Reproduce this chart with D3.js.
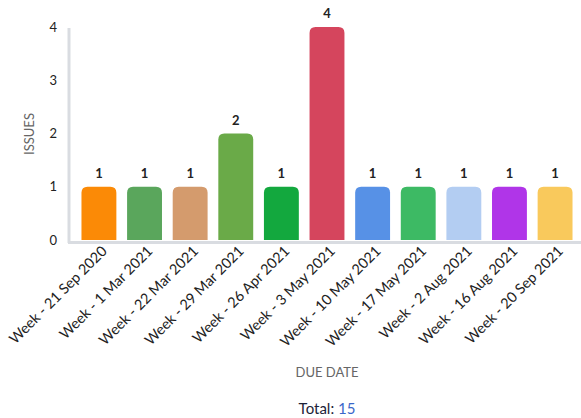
<!DOCTYPE html>
<html>
<head>
<meta charset="utf-8">
<script src="https://cdn.jsdelivr.net/npm/d3@7"></script>
<style>
  html, body { margin: 0; padding: 0; background: #fff; }
  svg { display: block; font-family: Lato, "Open Sans", sans-serif; }
</style>
</head>
<body>
<svg id="chart" width="581" height="418"></svg>
<script>
// Issues per due-date week
const weeks = [
  "Week - 21 Sep 2020", "Week - 1 Mar 2021", "Week - 22 Mar 2021", "Week - 29 Mar 2021",
  "Week - 26 Apr 2021", "Week - 3 May 2021", "Week - 10 May 2021", "Week - 17 May 2021",
  "Week - 2 Aug 2021", "Week - 16 Aug 2021", "Week - 20 Sep 2021"
];
const issues = [1, 1, 1, 2, 1, 4, 1, 1, 1, 1, 1];
const barColors = [
  "#fb8a06", "#5aa65c", "#d49b6d", "#6aaa48", "#13a83e", "#d5455d",
  "#5791e6", "#3dba64", "#b3cdf2", "#b035e8", "#f9c95c"
];
const yTicks = [0, 1, 2, 3, 4];

const svg = d3.select("#chart");
const x = d3.scaleBand().domain(weeks).range([76, 578]).paddingInner(0.235).paddingOuter(0.12);
const y = d3.scaleLinear().domain([0, 4]).range([240, 27]);

// axis lines
svg.append("line").attr("x1", 69).attr("x2", 69).attr("y1", 28).attr("y2", 243)
  .attr("stroke", "#d9dce1").attr("stroke-width", 3);
svg.append("line").attr("x1", 68).attr("x2", 581).attr("y1", 242.5).attr("y2", 242.5)
  .attr("stroke", "#d9dce1").attr("stroke-width", 3);

// y ticks
svg.append("g").selectAll("text").data(yTicks).join("text")
  .attr("x", 57).attr("y", d => y(d)).attr("dy", "0.35em")
  .attr("text-anchor", "end").attr("font-size", 13).attr("fill", "#222")
  .text(d => d);

// bars with rounded tops
const r = 6;
function barPath(d, i) {
  const x0 = x(weeks[i]), w = x.bandwidth(), y0 = y(d), y1 = y(0);
  return `M${x0},${y1}V${y0 + r}Q${x0},${y0} ${x0 + r},${y0}H${x0 + w - r}Q${x0 + w},${y0} ${x0 + w},${y0 + r}V${y1}Z`;
}
svg.append("g").selectAll("path").data(issues).join("path")
  .attr("d", barPath).attr("fill", (d, i) => barColors[i]);

// value labels
svg.append("g").selectAll("text").data(issues).join("text")
  .attr("x", (d, i) => x(weeks[i]) + x.bandwidth() / 2)
  .attr("y", d => y(d) - 9)
  .attr("text-anchor", "middle").attr("font-size", 13).attr("font-weight", "bold").attr("fill", "#222")
  .text(d => d);

// x tick labels
svg.append("g").selectAll("text").data(weeks).join("text")
  .attr("transform", d => `translate(${x(d) + x.bandwidth() / 2 + 9},${252}) rotate(-45)`)
  .attr("text-anchor", "end").attr("font-size", 14.5).attr("fill", "#222")
  .text(d => d);

// axis titles
svg.append("text").attr("transform", "translate(34,134) rotate(-90)")
  .attr("text-anchor", "middle").attr("font-size", 13).attr("fill", "#666").text("ISSUES");
svg.append("text").attr("x", 327).attr("y", 377)
  .attr("text-anchor", "middle").attr("font-size", 13).attr("fill", "#666").text("DUE DATE");

// total
const total = d3.sum(issues);
const t = svg.append("text").attr("x", 327).attr("y", 414).attr("text-anchor", "middle").attr("font-size", 15);
t.append("tspan").attr("fill", "#1c2238").text("Total: ");
t.append("tspan").attr("fill", "#3a67c9").text(total);
</script>
</body>
</html>
